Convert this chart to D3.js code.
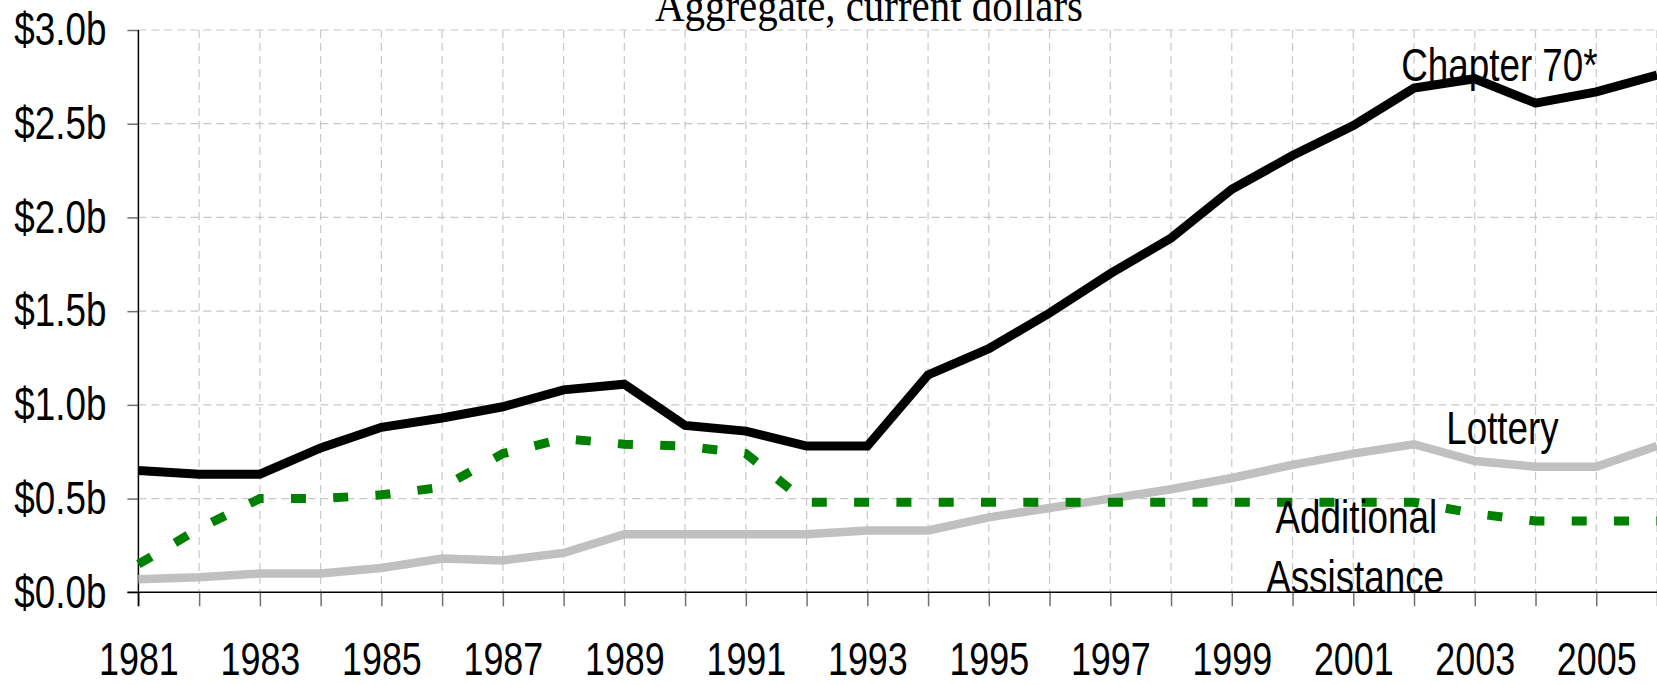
<!DOCTYPE html>
<html><head><meta charset="utf-8">
<script src="https://cdn.jsdelivr.net/npm/d3@7/dist/d3.min.js"></script>
<style>html,body{margin:0;padding:0;background:#fff;overflow:hidden}</style>
</head><body>
<svg id="chart" width="1657" height="685"></svg>
<script>
// ---- data (billions of dollars, aggregate current dollars) ----
const years = [1981,1982,1983,1984,1985,1986,1987,1988,1989,1990,1991,1992,1993,
               1994,1995,1996,1997,1998,1999,2000,2001,2002,2003,2004,2005,2006];
const chapter70 = [0.65,0.63,0.63,0.77,0.88,0.93,0.99,1.08,1.11,0.89,0.86,0.78,0.78,
                   1.16,1.30,1.49,1.70,1.89,2.15,2.33,2.49,2.69,2.74,2.61,2.67,2.76];
const lottery = [0.07,0.08,0.10,0.10,0.13,0.18,0.17,0.21,0.31,0.31,0.31,0.31,0.33,
                 0.33,0.40,0.45,0.50,0.55,0.61,0.68,0.74,0.79,0.70,0.67,0.67,0.78];
const additional = [0.15,0.34,0.50,0.50,0.52,0.56,0.74,0.82,0.79,0.78,0.74,0.48,0.48,
                    0.48,0.48,0.48,0.48,0.48,0.48,0.48,0.48,0.48,0.42,0.38,0.38,0.38];
const yTicks = [0,0.5,1.0,1.5,2.0,2.5,3.0];
const xLabelYears = [1981,1983,1985,1987,1989,1991,1993,1995,1997,1999,2001,2003,2005];
const title = "Aggregate, current dollars";
const labels = [
  {text:"Chapter 70*", year:2001.79, value:2.73, anchor:"start"},
  {text:"Lottery", year:2002.53, value:0.79, anchor:"start"},
  {text:"Additional", year:2001.05, value:0.316, anchor:"middle"},
  {text:"Assistance", year:2001.03, value:-0.004, anchor:"middle"}
];

// ---- layout ----
const svg = d3.select("#chart");
const x = d3.scaleLinear().domain([1981, 2006]).range([138.4, 1657]);
const y = d3.scaleLinear().domain([0, 3]).range([592.3, 30]);
const FONT = "'Liberation Sans', Arial, sans-serif";
const FS = 46, SX = 0.8, SXT = 0.78;

// grid
const grid = svg.append("g").attr("stroke","#c8c8c8").attr("stroke-width",1.2)
  .attr("stroke-dasharray","8,5").attr("fill","none");
grid.selectAll("line.h").data(yTicks.filter(d=>d>0)).join("line")
  .attr("x1",x(1981)).attr("x2",x(2006)).attr("y1",d=>y(d)).attr("y2",d=>y(d));
grid.selectAll("line.v").data(years.slice(1)).join("line")
  .attr("x1",d=>x(d)).attr("x2",d=>x(d)).attr("y1",y(3)).attr("y2",y(0));

// axes
const yAxis = d3.axisLeft(y).tickValues(yTicks).tickSize(11).tickPadding(21)
  .tickFormat(d=>"$"+d.toFixed(1)+"b");
const gy = svg.append("g").attr("transform",`translate(${x(1981)},0)`).call(yAxis);
gy.select(".domain").remove();
gy.selectAll(".tick line").attr("stroke","#707070").attr("stroke-width",1.5);
gy.selectAll(".tick text").attr("font-family",FONT).attr("font-size",FS).attr("fill","#000")
  .each(function(){const t=d3.select(this);const tx=+t.attr("x");
    t.attr("x",0).attr("transform",`translate(${tx},0) scale(${SX},1)`);});

const xAxis = d3.axisBottom(x).tickValues(years).tickSize(14).tickPadding(36)
  .tickFormat(d=>xLabelYears.includes(d)?String(d):"");
const gx = svg.append("g").attr("transform",`translate(0,${y(0)})`).call(xAxis);
gx.select(".domain").remove();
gx.selectAll(".tick line").attr("stroke","#707070").attr("stroke-width",1.5);
gx.selectAll(".tick text").attr("font-family",FONT).attr("font-size",FS).attr("fill","#000")
  .each(function(){const t=d3.select(this);const ty=+t.attr("y");
    t.attr("y",0).attr("transform",`translate(0,${ty}) scale(${SXT},1)`);});

// axis lines
svg.append("line").attr("x1",x(1981)).attr("x2",x(1981)).attr("y1",y(3)).attr("y2",y(0)+14)
  .attr("stroke","#000").attr("stroke-width",1.5);
svg.append("line").attr("x1",x(1981)-11).attr("x2",x(2006)).attr("y1",y(0)).attr("y2",y(0))
  .attr("stroke","#000").attr("stroke-width",1.5);

// series
const line = d3.line().x((d,i)=>x(years[i])).y(d=>y(d));
svg.append("path").datum(lottery).attr("d",line).attr("fill","none")
  .attr("stroke","#c0c0c0").attr("stroke-width",8.5).attr("stroke-linejoin","miter");
svg.append("path").datum(additional).attr("d",line).attr("fill","none")
  .attr("stroke","#008000").attr("stroke-width",9).attr("stroke-dasharray","15,27.3");
svg.append("path").datum(chapter70).attr("d",line).attr("fill","none")
  .attr("stroke","#000").attr("stroke-width",9).attr("stroke-linejoin","miter");

// labels
svg.selectAll("text.lbl").data(labels).join("text").attr("class","lbl")
  .attr("transform",d=>`translate(${x(d.year)},${y(d.value)}) scale(${SX},1)`)
  .attr("text-anchor",d=>d.anchor).attr("font-family",FONT).attr("font-size",FS)
  .attr("fill","#000").text(d=>d.text);

// title
svg.append("text").attr("transform","translate(869,21) scale(0.87,1)")
  .attr("text-anchor","middle").attr("font-family","'Liberation Serif','Times New Roman',serif")
  .attr("font-size",47).attr("fill","#000").text(title);
</script>
</body></html>
